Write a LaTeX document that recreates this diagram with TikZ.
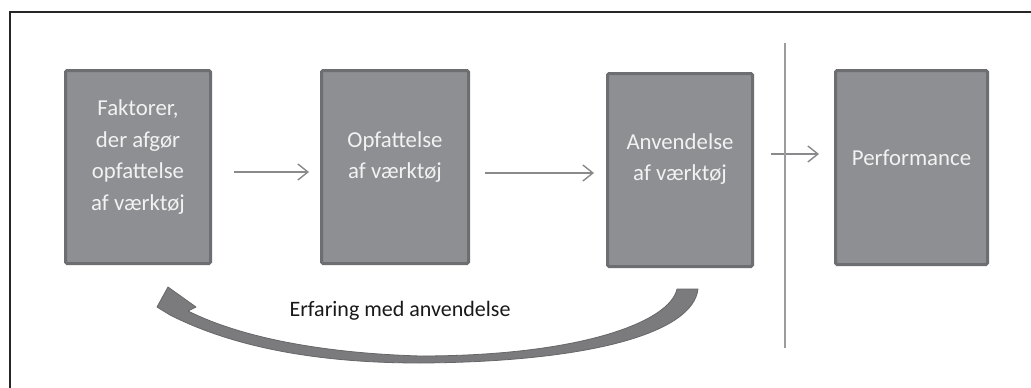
\documentclass[tikz,border=0pt]{standalone}
\usepackage{fontspec}
\setmainfont{Carlito}
\usetikzlibrary{arrows.meta}
\definecolor{boxfill}{HTML}{8E8F93}
\definecolor{boxline}{HTML}{6D6E71}
\definecolor{arrgray}{HTML}{8A8A8C}
\definecolor{sepgray}{HTML}{9C9C9E}
\definecolor{curvefill}{HTML}{7B7B7E}
\definecolor{curveline}{HTML}{67676A}
\definecolor{txtwhite}{HTML}{F2F2F2}
\begin{document}
\begin{tikzpicture}[x=1pt,y=-1pt,
  box/.style={draw=boxline,fill=boxfill,line width=3pt,rounded corners=1.5pt,
    minimum width=145pt,minimum height=193pt,inner sep=0pt},
  boxtext/.style={text=txtwhite,align=center,font=\fontsize{22.8pt}{31.5pt}\selectfont},
  flow/.style={draw=arrgray,line width=1.4pt,-{Straight Barb[length=10pt,width=16pt,line width=1.4pt]}},
  sep/.style={draw=sepgray,line width=1.4pt},
  frame/.style={draw=black!85,line width=1.3pt},
  curved/.style={fill=curvefill,draw=curveline,line width=0.8pt,line join=round},
  label/.style={text=black!90,font=\fontsize{22pt}{26pt}\selectfont}]
\useasboundingbox (0,0) rectangle (1031,388);
\fill[white] (0,0) rectangle (1031,388);
\draw[frame] (10,389) -- (10,12) -- (1032,12);

\node[box] (b1) at (138,167) {};
\node[box,minimum width=147pt] (b2) at (395,167) {};
\node[box] (b3) at (680,170) {};
\node[box,minimum width=152pt,minimum height=194pt] (b4) at (911.5,167.5) {};

\node[boxtext] (t1) at ([yshift=10pt]b1.center) {Faktorer,\\der afgør\\opfattelse\\af værktøj};
\node[boxtext] (t2) at ([yshift=10pt]b2.center) {Opfattelse\\af værktøj};
\node[boxtext] (t3) at ([yshift=11pt]b3.center) {Anvendelse\\af værktøj};
\node[boxtext] (t4) at ([yshift=10pt]b4.center) {Performance};

\draw[flow,shorten <=22pt,shorten >=11pt] ([yshift=-5pt]b1.east) -- ([yshift=-5pt]b2.west);
\draw[flow,shorten <=15pt,shorten >=12pt] ([yshift=-3pt]b3.west -| b2.east) -- ([yshift=-3pt]b3.west);
\draw[flow,shorten <=17pt,shorten >=15pt] ([yshift=16pt]b3.east) -- ([yshift=16pt]b3.east -| b4.west);

\coordinate (s1) at (785,43);
\coordinate (s2) at (785,348);
\draw[sep] (s1) -- (s2);

\draw[curved] (677,289) -- (698,289)
  .. controls (693,333) and (590,362) .. (420,363)
  .. controls (320,363) and (235,348) .. (170,315)
  -- (157,307) -- (168,287) -- (196,307) -- (188,311)
  .. controls (240,337) and (320,353) .. (420,356)
  .. controls (580,356) and (670,322) .. (677,289) -- cycle;

\node[label] (erf) at (400,311) {Erfaring med anvendelse};
\end{tikzpicture}
\end{document}
